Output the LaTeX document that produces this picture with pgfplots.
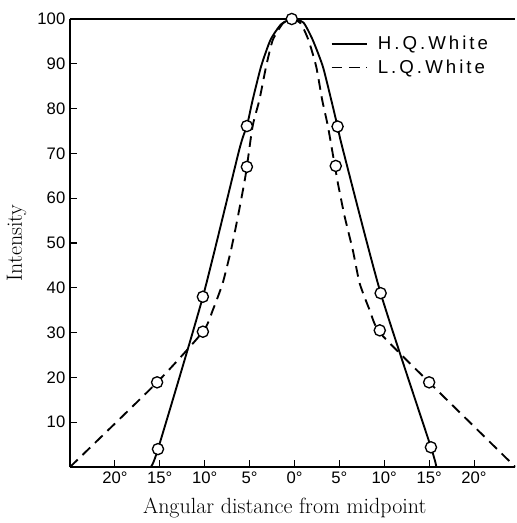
\documentclass[border=0pt]{standalone}
\usepackage{fontspec}
\usepackage{pgfplots}
\pgfplotsset{compat=1.18}
\newfontfamily\lsans{Liberation Sans}
\newfontfamily\legsans{Liberation Sans}[LetterSpace=16]
\newcommand\tickf{\fontsize{12.5}{14}\selectfont\lsans}
\newcommand\legf{\fontsize{14}{16}\selectfont\legsans}
\newcommand\labf{\fontsize{16.5}{19}\selectfont}
\begin{document}
\begin{tikzpicture}
\begin{axis}[
  scale only axis,
  width=334pt, height=336pt,
  xmin=-25, xmax=24.6, ymin=0, ymax=100,
  axis x line*=box, axis y line*=left,
  axis line style={-, line width=1.2pt},
  xtick pos=left,
  tick align=inside,
  major tick length=5pt,
  tick style={line width=0.8pt, black},
  xtick={-20,-15,-10,-5,0,5,10,15,20},
  xticklabels={20°,15°,10°,5°,0°,5°,10°,15°,20°},
  ytick={10,20,30,40,50,60,70,80,90,100},
  yticklabels={10,20,30,40,50,60,70,80,90,100},
  tick label style={font=\tickf},
  xlabel={Angular distance from midpoint},
  ylabel={Intensity},
  label style={font=\labf},
  xlabel style={yshift=-4pt, xshift=-6pt},
  ylabel style={yshift=1.5pt},
  legend style={draw=none, fill=none, at={(0.585,0.968)}, anchor=north west,
    font=\legf, row sep=2pt, inner sep=0pt},
  legend cell align=left,
  legend image code/.code={\draw[#1] (0cm,0cm) -- (0.92cm,0cm); \path (1.12cm,0cm);},
]
\addplot[black, line width=1.4pt, smooth, tension=0.35] coordinates {
(-16,0) (-15.2,4.0) (-10.2,38.0) (-6.15,70.8) (-5.3,76.1) (-4.66,81.9) (-3.72,89.4) (-2.68,95.3) (-1.5,98.8) (-0.3,100)
(1,99.2) (2.04,95.3) (3.16,89.4) (4.10,81.9) (4.8,76) (5.4,70.8) (9.6,38.8) (15.2,4.4) (15.8,0)
};
\addlegendentry{H.\,Q.\,White}
\addplot[black, line width=1.4pt, dash pattern=on 8pt off 5pt, smooth, tension=0.35] coordinates {
(-25,0) (-15.3,18.9) (-10.2,30.2) (-9.1,35) (-8.0,41) (-7.07,48.4) (-6.3,55.9) (-5.6,63.3) (-5.3,67) (-4.66,76.1) (-3.91,81.9) (-3.16,89.4) (-2.42,95.3) (-1.3,99) (-0.3,100)
(0.7,99) (1.56,95.3) (2.42,89.4) (3.09,81.9) (3.72,76.1) (4.5,67.2) (4.84,63.3) (5.59,55.9) (6.5,48.4) (7.26,41) (8.38,35) (9.5,30) (15,18.9) (24.6,0)
};
\addlegendentry{L.\,Q.\,White}
\addplot[only marks, mark=*, mark size=4.2pt, mark options={fill=white, draw=black, line width=1pt}, forget plot] coordinates {
(-15.2,4.0) (-10.2,38.0) (-5.3,76.1) (-0.3,100) (4.8,76) (9.6,38.8) (15.2,4.4)
(-15.3,18.9) (-10.2,30.2) (-5.3,67) (4.6,67.2) (9.5,30.5) (15,18.9)
};
\end{axis}
\path (current axis.south west) ++(-52.5pt,-42pt) coordinate (bbA);
\path (current axis.north east) ++(0pt,14.25pt) coordinate (bbB);
\path (bbA) rectangle (bbB);
\end{tikzpicture}
\end{document}
